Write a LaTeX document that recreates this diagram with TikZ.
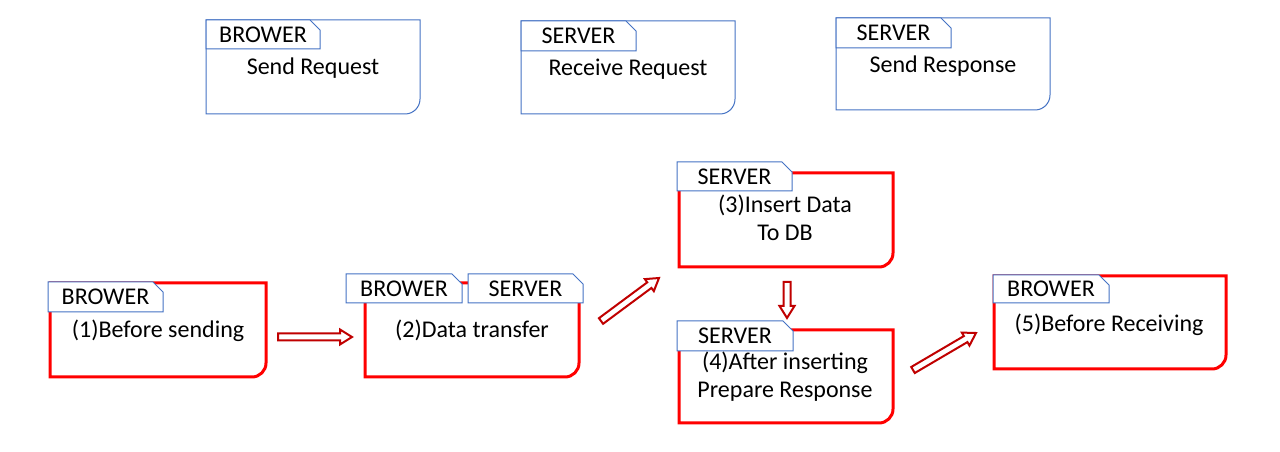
\documentclass[tikz,border=0pt]{standalone}
\usepackage{fontspec}
\setmainfont{Carlito}
\usetikzlibrary{shapes.misc,calc}
\definecolor{tabblue}{HTML}{4472C4}
\definecolor{boxred}{HTML}{FF0000}
\definecolor{arrred}{HTML}{C00000}
\newcommand\myblockarrow[2]{%
  \coordinate (#1n) at ($(#2)!12pt!(#1)$);
  \filldraw[arrowline]
    ($(#1)!3.5pt!90:(#2)$) -- ($(#1n)!3.5pt!90:(#2)$) -- ($(#1n)!7.5pt!90:(#2)$) --
    (#2) --
    ($(#1n)!7.5pt!-90:(#2)$) -- ($(#1n)!3.5pt!-90:(#2)$) -- ($(#1)!3.5pt!-90:(#2)$) -- cycle;}
\newcommand\mybox[3]{% name, style, radius
  \draw[#2] (#1.north west) -- (#1.north east) -- ([yshift=#3pt]#1.south east)
    arc(0:-90:#3) -- (#1.south west) -- cycle;}
\tikzset{
  txt/.style={font=\fontsize{24}{28}\selectfont, text=black, inner sep=0pt},
  lbl/.style={txt, anchor=base, align=center},
  area/.style={rectangle, inner sep=0pt, outer sep=0pt},
  bluebox/.style={draw=tabblue, line width=1pt},
  redbox/.style={draw=boxred, line width=3pt},
  tab/.style={txt, chamfered rectangle, chamfered rectangle corners=north east,
    chamfered rectangle xsep=5pt, chamfered rectangle ysep=5pt,
    draw=tabblue, fill=white, line width=1pt, minimum width=115pt, minimum height=30pt, inner sep=0pt},
  arrowline/.style={draw=arrred, fill=white, line width=2pt, line join=miter},
}
\begin{document}
\begin{tikzpicture}[x=1pt,y=1pt]
\useasboundingbox (0,0) rectangle (1280,452);
\fill[white] (0,0) rectangle (1280,452);
% top boxes
\node[area, minimum width=214pt, minimum height=94pt] (B1) at (313,385) {};
\node[area, minimum width=214pt, minimum height=93pt] (B2) at (628,384.5) {};
\node[area, minimum width=214pt, minimum height=92pt] (B3) at (943,388) {};
\mybox{B1}{bluebox}{15}
\mybox{B2}{bluebox}{15}
\mybox{B3}{bluebox}{15}
\node[tab, minimum width=114pt, minimum height=29pt] (T1) at (263,417.5) {BROWER};
\node[tab] (T2) at (578.5,416) {SERVER};
\node[tab] (T3) at (893.5,419) {SERVER};
\node[lbl] (L1) at (313,377) {Send Request};
\node[lbl] (L2) at (628,376) {Receive Request};
\node[lbl] (L3) at (943,379) {Send Response};
% red boxes
\node[area, minimum width=216pt, minimum height=94pt] (R1) at (158,122) {};
\node[area, minimum width=214pt, minimum height=94pt] (R2) at (472,122) {};
\node[area, minimum width=214pt, minimum height=94pt] (R3) at (786,232) {};
\node[area, minimum width=214pt, minimum height=93pt] (R4) at (786,75.5) {};
\node[area, minimum width=232pt, minimum height=93pt] (R5) at (1110,129.5) {};
\mybox{R1}{redbox}{14}
\mybox{R2}{redbox}{14}
\mybox{R3}{redbox}{14}
\mybox{R4}{redbox}{14}
\mybox{R5}{redbox}{14}
\node[tab] (t1) at (105.5,155) {BROWER};
\node[tab, minimum width=116pt, minimum height=29pt] (t2a) at (404,163.5) {BROWER};
\node[tab, minimum height=29pt] (t2b) at (525.5,163.5) {SERVER};
\node[tab, minimum height=29pt] (t3) at (734.5,275.5) {SERVER};
\node[tab, minimum width=116pt] (t4) at (735,116) {SERVER};
\node[tab, minimum width=116pt, minimum height=28pt] (t5) at (1051,163) {BROWER};
\node[lbl] (l1) at (158,114) {(1)Before sending};
\node[lbl] (l2) at (472,114) {(2)Data transfer};
\node[lbl] (l3) at (785,211) {(3)Insert Data\\To DB};
\node[lbl] (l4) at (785,54) {(4)After inserting\\Prepare Response};
\node[lbl] (l5) at (1109,120) {(5)Before Receiving};
% arrows
\coordinate (a1) at (278,115); \coordinate (a1e) at (352,115);
\coordinate (a2) at (601,131); \coordinate (a2e) at (659,174);
\coordinate (a3) at (787,170); \coordinate (a3e) at (787,134);
\coordinate (a4) at (913,82);  \coordinate (a4e) at (976,119);
\myblockarrow{a1}{a1e}
\myblockarrow{a2}{a2e}
\myblockarrow{a3}{a3e}
\myblockarrow{a4}{a4e}
\end{tikzpicture}
\end{document}
